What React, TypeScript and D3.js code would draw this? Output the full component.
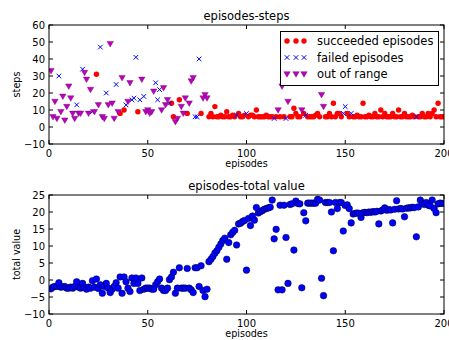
import { useEffect, useRef } from 'react';
import * as d3 from 'd3';

// one code per episode (1..200): s = succeeded, f = failed, o = out of range
const outcomes =
  'oooofooooo' + 'ooofoofooo' + 'ofosofoofo' + 'ooofososfo' + 'offfsfofoo' +
  'ooofffoooo' + 'fssoosooos' + 'ooofffsooo' + 'ssssssssss' + 'ssssfssssf' +
  'ssssssssss' + 'sssfsososf' + 'ossssssosf' + 'sssssssoos' + 'ssssssssff' +
  'ssfsssssss' + 'ssssssssss' + 'ssssssssss' + 'sssssfssss' + 'ssssssssss';

const steps = [
  33, 6, 15, 5, 30, 9, 18, 4, 12, 24,
  17, 8, 5, 13, 8, 8, 34, 32, 28, 8,
  22, 9, 9, 31, 13, 47, 6, 5, 20, 13,
  49, 14, 5, 25, 9, 8, 29, 10, 13, 15,
  26, 16, 17, 41, 9, 16, 28, 18, 9, 10,
  8, 9, 21, 26, 16, 22, 10, 23, 13, 16,
  14, 14, 6, 3, 5, 16, 12, 8, 17, 8,
  14, 27, 29, 6, 6, 40, 8, 17, 19, 17,
  6, 8, 6, 12, 6, 6, 7, 6, 6, 9,
  6, 6, 7, 6, 7, 8, 6, 6, 7, 8,
  6, 7, 7, 6, 10, 6, 6, 6, 6, 7,
  6, 6, 6, 5, 6, 10, 6, 24, 6, 5,
  15, 6, 6, 11, 8, 6, 6, 10, 8, 7,
  6, 6, 6, 6, 7, 8, 6, 19, 12, 6,
  6, 8, 6, 14, 6, 8, 8, 6, 8, 12,
  8, 6, 8, 6, 6, 7, 6, 6, 14, 6,
  6, 7, 6, 6, 8, 6, 6, 10, 6, 8,
  6, 6, 6, 8, 6, 6, 10, 6, 6, 8,
  6, 6, 6, 7, 6, 6, 6, 6, 8, 6,
  6, 8, 6, 8, 10, 6, 14, 6, 6, 6,
];

const totalValue = [
  -2.6, -2.1, -1.9, -1.9, -0.8, -2.1, -2.0, -1.9, -2.4, -2.4,
  -2.1, -2.4, -1.9, -0.5, -2.1, -2.4, -1.0, -2.2, -2.7, -2.1,
  -2.4, -0.2, -2.1, 0.3, -2.5, -1.4, -3.9, -1.9, -1.0, -2.4,
  -3.7, -2.7, -1.9, -0.8, -2.4, 0.9, -3.9, 0.9, -0.5, -2.4,
  -3.4, 0.6, -1.0, 0.6, -1.0, -3.1, 0.6, -2.7, -2.4, -2.4,
  -2.4, -2.7, -2.7, -1.4, -0.5, 0.3, -2.4, -3.1, -3.1, -2.4,
  0.1, 0.9, 2.3, -3.9, -2.4, 3.6, -2.4, -2.4, -2.4, 3.4,
  -2.4, -2.9, -3.7, 3.6, 3.6, -1.9, 4.2, -3.1, -4.9, -2.7,
  5.4, 6.1, 6.9, 7.9, 8.6, 9.6, 10.6, 11.6, 12.3, 6.1,
  11.0, 13.3, 14.0, 14.6, 10.3, 16.5, 16.7, 17.2, 17.5, 2.9,
  18.1, 16.0, 18.8, 17.6, 21.3, 19.7, 20.1, 20.4, 20.8, 21.0,
  21.2, 21.4, 23.5, 12.1, 14.9, -2.9, 22.0, -2.9, 22.0, 12.5,
  -1.0, 22.2, 22.4, 8.8, 23.2, 22.5, 22.4, -2.3, 19.8, 17.4,
  22.6, 22.6, 22.6, 22.6, 22.6, 23.7, 23.5, 0.5, -4.6, 22.8,
  22.8, 22.8, 20.0, 8.6, 22.8, 21.0, 22.8, 22.8, 14.4, 21.9,
  22.1, 21.0, 16.8, 19.4, 19.6, 19.7, 19.6, 18.4, 19.8, 19.9,
  19.8, 20.0, 19.9, 20.1, 20.0, 20.2, 16.5, 20.3, 20.6, 21.2,
  20.5, 20.7, 20.6, 16.8, 20.8, 23.3, 20.9, 21.0, 20.9, 18.6,
  21.1, 21.2, 21.2, 21.4, 21.3, 12.7, 21.5, 23.5, 22.6, 22.2,
  22.8, 22.0, 21.8, 23.5, 21.0, 19.8, 22.4, 22.6, 22.5, 22.6,
];

const xTicks = [0, 50, 100, 150, 200];
const stepTicks = [-10, 0, 10, 20, 30, 40, 50, 60];
const valueTicks = [-10, -5, 0, 5, 10, 15, 20, 25];
const legendLabels = ['succeeded episodes', 'failed episodes', 'out of range'];

const FONT = 'DejaVu Sans, sans-serif';
const RED = '#ff0000';
const BLUE = '#0000ff';
const MAGENTA = '#bf00bf';

export default function App() {
  const ref = useRef<SVGSVGElement>(null);

  useEffect(() => {
    const svg = d3.select(ref.current);
    svg.selectAll('*').remove();

    const left = 49;
    const right = 444;
    const x = d3.scaleLinear().domain([0, 200]).range([left, right]);
    const yS = d3.scaleLinear().domain([-10, 60]).range([144, 25]);
    const yV = d3.scaleLinear().domain([-10, 25]).range([314, 195]);

    const episodes = outcomes.split('').map((c, i) => ({
      ep: i + 1,
      kind: c,
      steps: steps[i],
      value: totalValue[i],
    }));

    const circle = (g: any, cx: number, cy: number, r: number, fill: string) =>
      g.append('circle').attr('cx', cx).attr('cy', cy).attr('r', r).attr('fill', fill);
    const cross = (g: any, cx: number, cy: number) =>
      g
        .append('path')
        .attr('d', `M${cx - 2.3},${cy - 2.3}L${cx + 2.3},${cy + 2.3}M${cx - 2.3},${cy + 2.3}L${cx + 2.3},${cy - 2.3}`)
        .attr('stroke', BLUE)
        .attr('stroke-width', 1)
        .attr('fill', 'none');
    const triDown = (g: any, cx: number, cy: number) =>
      g
        .append('path')
        .attr('d', `M${cx - 3.2},${cy - 2.3}L${cx + 3.2},${cy - 2.3}L${cx},${cy + 3.2}Z`)
        .attr('fill', MAGENTA)
        .attr('stroke', '#600060')
        .attr('stroke-width', 0.4);

    const panel = (
      id: string,
      y: d3.ScaleLinear<number, number>,
      yTicks: number[],
      title: string,
      ylabel: string
    ) => {
      const [bottom, top] = y.range();
      const g = svg.append('g');
      g.append('clipPath')
        .attr('id', id)
        .append('rect')
        .attr('x', left)
        .attr('y', top)
        .attr('width', right - left)
        .attr('height', bottom - top);
      const plot = g.append('g').attr('clip-path', `url(#${id})`);

      const frame = svg.append('g');
      frame
        .append('rect')
        .attr('x', left)
        .attr('y', top)
        .attr('width', right - left)
        .attr('height', bottom - top)
        .attr('fill', 'none')
        .attr('stroke', '#000')
        .attr('stroke-width', 1);

      xTicks.forEach((t) => {
        const px = x(t);
        frame.append('line').attr('x1', px).attr('x2', px).attr('y1', bottom).attr('y2', bottom - 4).attr('stroke', '#000');
        frame.append('line').attr('x1', px).attr('x2', px).attr('y1', top).attr('y2', top + 4).attr('stroke', '#000');
        frame
          .append('text')
          .attr('x', px)
          .attr('y', bottom + 13)
          .attr('text-anchor', 'middle')
          .style('font', `10px ${FONT}`)
          .text(d3.format('d')(t));
      });
      yTicks.forEach((t) => {
        const py = y(t);
        frame.append('line').attr('x1', left).attr('x2', left + 4).attr('y1', py).attr('y2', py).attr('stroke', '#000');
        frame.append('line').attr('x1', right).attr('x2', right - 4).attr('y1', py).attr('y2', py).attr('stroke', '#000');
        frame
          .append('text')
          .attr('x', left - 4)
          .attr('y', py + 3.6)
          .attr('text-anchor', 'end')
          .style('font', `10px ${FONT}`)
          .text(d3.format('d')(t));
      });

      frame
        .append('text')
        .attr('x', (left + right) / 2)
        .attr('y', top - 5)
        .attr('text-anchor', 'middle')
        .style('font', `11.5px ${FONT}`)
        .text(title);
      frame
        .append('text')
        .attr('x', (left + right) / 2)
        .attr('y', bottom + 23)
        .attr('text-anchor', 'middle')
        .style('font', `9.6px ${FONT}`)
        .text('episodes');
      frame
        .append('text')
        .attr('transform', `translate(20, ${(top + bottom) / 2}) rotate(-90)`)
        .attr('text-anchor', 'middle')
        .style('font', `9.6px ${FONT}`)
        .text(ylabel);

      return { plot, frame };
    };

    // top panel: steps per episode
    const top = panel('clip-steps', yS, stepTicks, 'episodes-steps', 'steps');
    episodes.filter((d) => d.kind === 's').forEach((d) => circle(top.plot, x(d.ep), yS(d.steps), 2.7, RED));
    episodes.filter((d) => d.kind === 'f').forEach((d) => cross(top.plot, x(d.ep), yS(d.steps)));
    episodes.filter((d) => d.kind === 'o').forEach((d) => triDown(top.plot, x(d.ep), yS(d.steps)));

    // legend
    const lg = top.frame.append('g');
    lg.append('rect')
      .attr('x', 280.5)
      .attr('y', 31.5)
      .attr('width', 158)
      .attr('height', 54)
      .attr('fill', '#fff')
      .attr('stroke', '#000');
    const rows = [41, 57.5, 74];
    const mx = [287, 296, 304];
    legendLabels.forEach((label, i) => {
      mx.forEach((px) => {
        if (i === 0) circle(lg, px, rows[i], 2.7, RED);
        else if (i === 1) cross(lg, px, rows[i]);
        else triDown(lg, px, rows[i]);
      });
      lg.append('text')
        .attr('x', 317)
        .attr('y', rows[i] + 4)
        .style('font', `11.5px ${FONT}`)
        .text(label);
    });

    // bottom panel: total value per episode
    const bot = panel('clip-value', yV, valueTicks, 'episodes-total value', 'total value');
    episodes.forEach((d) =>
      circle(bot.plot, x(d.ep), yV(d.value), 3.3, BLUE).attr('stroke', '#000030').attr('stroke-width', 0.5)
    );
  }, []);

  return (
    <svg
      ref={ref}
      width={449}
      height={340}
      style={{ position: 'absolute', left: 0, top: 0, background: '#fff' }}
    />
  );
}
